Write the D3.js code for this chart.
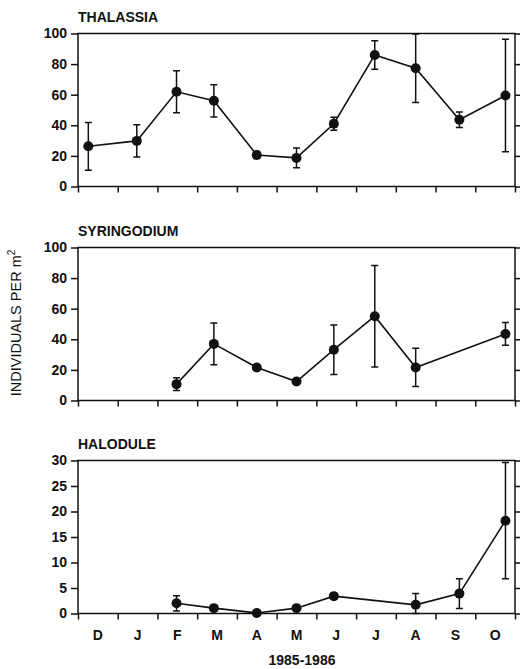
<!DOCTYPE html>
<html lang="en">
	<head>
		<meta charset="UTF-8" />
		<title>Individuals per m2, 1985-1986</title>
		<script src="https://d3js.org/d3.v7.min.js"></script>
		<style>
			body { margin: 0; background: #fff; }
			text { font-family: 'Liberation Sans', Arial, sans-serif; fill: #111; }
		</style>
	</head>
	<body>
		<svg width="520" height="669"></svg>

		<script>
			// month labels (Dec 1985 - Oct 1986) and sampling date inside each month (month index)
			const months = ['D', 'J', 'F', 'M', 'A', 'M', 'J', 'J', 'A', 'S', 'O'];
			const sampleDate = [0.26, 1.48, 2.48, 3.42, 4.5, 5.5, 6.44, 7.47, 8.5, 9.6, 10.76];

			// means and error (half length of bar), null = not sampled
			const thalassiaMean = [26.3, 29.8, 61.9, 56, 20.6, 18.7, 41, 86, 77.3, 43.6, 59.5];
			const thalassiaErr = [15.6, 10.5, 13.7, 10.5, 2.3, 6.4, 4.3, 9.3, 22.4, 5.1, 36.8];

			const syringodiumMean = [null, null, 10.7, 37, 21.6, 12.4, 33.2, 55.1, 21.6, null, 43.5];
			const syringodiumErr = [null, null, 4.2, 13.7, 1.2, 0, 16.2, 33.2, 12.5, null, 7.4];

			const halodulMean = [null, null, 2.0, 1.05, 0.1, 1.05, 3.4, null, 1.7, 3.9, 18.2];
			const halodulErr = [null, null, 1.5, 0, 0, 0, 0.3, null, 2.2, 2.9, 11.4];

			const thalassiaTicks = [0, 20, 40, 60, 80, 100];
			const syringodiumTicks = [0, 20, 40, 60, 80, 100];
			const halodulTicks = [0, 5, 10, 15, 20, 25, 30];

			const svg = d3.select('svg');
			const left = 78;
			const right = 515;
			const panelHeight = 153;

			const x = d3.scaleLinear().domain([0, months.length]).range([left, right]);

			const panels = [
				{ name: 'THALASSIA', mean: thalassiaMean, err: thalassiaErr, ticks: thalassiaTicks, top: 33.5 },
				{ name: 'SYRINGODIUM', mean: syringodiumMean, err: syringodiumErr, ticks: syringodiumTicks, top: 247.5 },
				{ name: 'HALODULE', mean: halodulMean, err: halodulErr, ticks: halodulTicks, top: 460.5 }
			];

			panels.forEach((p, i) => {
				const bottom = p.top + panelHeight;
				const y = d3.scaleLinear().domain([0, d3.max(p.ticks)]).range([bottom, p.top]);
				const g = svg.append('g');

				// frame
				g.append('rect')
					.attr('x', left)
					.attr('y', p.top)
					.attr('width', right - left)
					.attr('height', panelHeight)
					.style('fill', 'none')
					.style('stroke', '#111')
					.style('stroke-width', 1.5);

				// left axis with labels
				const yAxis = g.append('g')
					.attr('transform', `translate(${left},0)`)
					.call(d3.axisLeft(y).tickValues(p.ticks).tickSize(7).tickPadding(4));

				// right axis, ticks only
				const yAxisRight = g.append('g')
					.attr('transform', `translate(${right},0)`)
					.call(d3.axisRight(y).tickValues(p.ticks).tickSize(5).tickFormat(''));

				// bottom axis, ticks at month boundaries
				const xAxis = g.append('g')
					.attr('transform', `translate(0,${bottom})`)
					.call(d3.axisBottom(x).tickValues(d3.range(months.length + 1)).tickSize(6).tickFormat(''));

				[yAxis, yAxisRight, xAxis].forEach(a => {
					a.select('.domain').remove();
					a.selectAll('line').style('stroke', '#111').style('stroke-width', 1.5);
				});
				yAxis.selectAll('text')
					.style('font-size', '14px')
					.style('font-weight', 'bold')
					.style('fill', '#111');

				// title
				g.append('text')
					.attr('x', left)
					.attr('y', p.top - 12)
					.style('font-size', '14px')
					.style('font-weight', 'bold')
					.text(p.name);

				const pts = sampleDate
					.map((d, k) => ({ t: d, v: p.mean[k], e: p.err[k] }))
					.filter(d => d.v !== null);

				// connecting line
				g.append('path')
					.datum(pts)
					.attr('d', d3.line().x(d => x(d.t)).y(d => y(d.v)))
					.style('fill', 'none')
					.style('stroke', '#111')
					.style('stroke-width', 1.6);

				// error bars
				const bars = pts.filter(d => d.e > 0);
				const cap = 3.5;
				g.selectAll('.bar')
					.data(bars)
					.enter()
					.append('path')
					.attr('class', 'bar')
					.attr('d', d => {
						const cx = x(d.t);
						const y1 = y(Math.min(d3.max(p.ticks), d.v + d.e));
						const y0 = y(Math.max(0, d.v - d.e));
						return `M${cx - cap},${y1}H${cx + cap}M${cx},${y1}V${y0}M${cx - cap},${y0}H${cx + cap}`;
					})
					.style('fill', 'none')
					.style('stroke', '#111')
					.style('stroke-width', 1.5);

				// points
				g.selectAll('.pt')
					.data(pts)
					.enter()
					.append('circle')
					.attr('class', 'pt')
					.attr('cx', d => x(d.t))
					.attr('cy', d => y(d.v))
					.attr('r', 5)
					.style('fill', '#111');

				// month labels only on the last panel
				if (i === panels.length - 1) {
					g.selectAll('.month')
						.data(months)
						.enter()
						.append('text')
						.attr('class', 'month')
						.attr('x', (d, k) => x(k + 0.5))
						.attr('y', bottom + 26)
						.attr('text-anchor', 'middle')
						.style('font-size', '14px')
						.style('font-weight', 'bold')
						.text(d => d);

					g.append('text')
						.attr('x', 302)
						.attr('y', 665)
						.attr('text-anchor', 'middle')
						.style('font-size', '14px')
						.style('font-weight', 'bold')
						.text('1985-1986');
				}
			});

			// y axis title
			const yTitle = svg.append('text')
				.attr('transform', 'translate(21,323) rotate(-90)')
				.attr('text-anchor', 'middle')
				.style('font-size', '14.5px');
			yTitle.append('tspan').text('INDIVIDUALS PER m');
			yTitle.append('tspan').attr('dy', -6).style('font-size', '10px').text('2');
		</script>
	</body>
</html>
